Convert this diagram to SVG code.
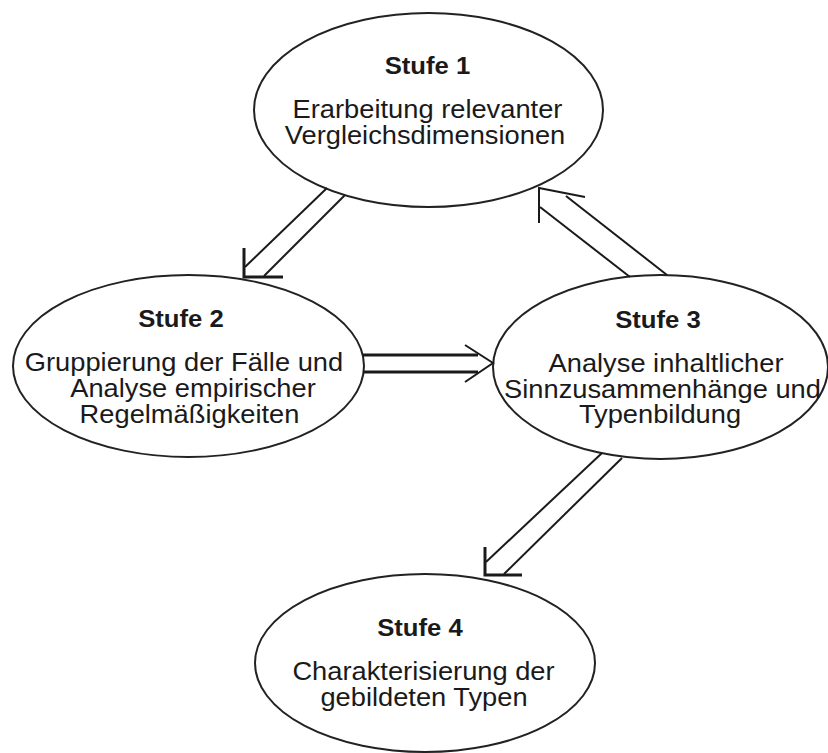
<svg xmlns="http://www.w3.org/2000/svg" width="828" height="753" viewBox="0 0 828 753">
  <style>
    .bg { fill: #ffffff; }
    .node ellipse { fill: #ffffff; stroke: #222222; stroke-width: 2; }
    .title { font-family: "Liberation Sans", Arial, sans-serif; font-weight: bold; font-size: 24px; fill: #1a1a1a; text-anchor: middle; }
    .body { font-family: "Liberation Sans", Arial, sans-serif; font-size: 25.5px; fill: #1a1a1a; text-anchor: middle; }
    .conn line, .conn polyline { fill: none; stroke: #1a1a1a; stroke-linecap: butt; stroke-linejoin: miter; }
    .thin { stroke-width: 2; }
    .thick { stroke-width: 3; }
  </style>

  <rect class="bg" x="0" y="0" width="828" height="753"/>

  <!-- Stage 1 -->
  <g id="stufe1" class="node">
    <ellipse cx="428.5" cy="110" rx="174.5" ry="97"/>
    <text class="title" transform="matrix(1.07 0 0 1 427.5 0)" x="0" y="74">Stufe 1</text>
    <text class="body" transform="matrix(1.07 0 0 1 427.5 0)" x="0" y="118">Erarbeitung relevanter</text>
    <text class="body" transform="matrix(1.07 0 0 1 425 0)" x="0" y="144">Vergleichsdimensionen</text>
  </g>

  <!-- Stage 2 -->
  <g id="stufe2" class="node">
    <ellipse cx="188.5" cy="366" rx="175.5" ry="91"/>
    <text class="title" transform="matrix(1.07 0 0 1 181 0)" x="0" y="327">Stufe 2</text>
    <text class="body" transform="matrix(1.07 0 0 1 184 0)" x="0" y="371">Gruppierung der Fälle und</text>
    <text class="body" transform="matrix(1.07 0 0 1 193 0)" x="0" y="397">Analyse empirischer</text>
    <text class="body" transform="matrix(1.07 0 0 1 189.5 0)" x="0" y="423">Regelmäßigkeiten</text>
  </g>

  <!-- Stage 3 -->
  <g id="stufe3" class="node">
    <ellipse cx="660.5" cy="367" rx="167.5" ry="92"/>
    <text class="title" transform="matrix(1.07 0 0 1 658 0)" x="0" y="328">Stufe 3</text>
    <text class="body" transform="matrix(1.07 0 0 1 666 0)" x="0" y="372">Analyse inhaltlicher</text>
    <text class="body" transform="matrix(1.07 0 0 1 662.5 0)" x="0" y="398">Sinnzusammenhänge und</text>
    <text class="body" transform="matrix(1.07 0 0 1 660 0)" x="0" y="423">Typenbildung</text>
  </g>

  <!-- Stage 4 -->
  <g id="stufe4" class="node">
    <ellipse cx="425" cy="663" rx="170" ry="89"/>
    <text class="title" transform="matrix(1.07 0 0 1 420 0)" x="0" y="636">Stufe 4</text>
    <text class="body" transform="matrix(1.07 0 0 1 423.5 0)" x="0" y="680">Charakterisierung der</text>
    <text class="body" transform="matrix(1.07 0 0 1 424 0)" x="0" y="706">gebildeten Typen</text>
  </g>

  <!-- Double-line arrows between the stages -->
  <g id="connectors" class="conn">
    <!-- 1 to 2 -->
    <line class="thin" x1="327" y1="188" x2="245" y2="267"/>
    <line class="thin" x1="345" y1="195" x2="264" y2="276"/>
    <polyline class="thick" points="244,248 244,277 283,277"/>

    <!-- 2 to 3 -->
    <line class="thick" x1="363" y1="355" x2="478" y2="355"/>
    <line class="thick" x1="363" y1="372" x2="478" y2="372"/>
    <polyline class="thin" points="465,345 493,363 465,382"/>

    <!-- 3 to 1 -->
    <line class="thin" x1="630" y1="277" x2="540" y2="207"/>
    <line class="thin" x1="667" y1="275" x2="566" y2="196"/>
    <polyline class="thin" points="539,223 539,188 585,197"/>

    <!-- 3 to 4 -->
    <line class="thin" x1="602" y1="453" x2="486" y2="562"/>
    <line class="thin" x1="622" y1="458" x2="504" y2="574"/>
    <polyline class="thick" points="485,547 485,575 522,575"/>
  </g>
</svg>
